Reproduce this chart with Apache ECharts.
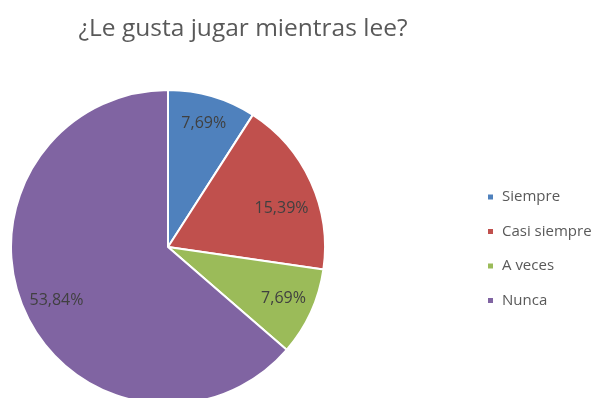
<!DOCTYPE html>
<html><head><meta charset="utf-8">
<script src="https://cdn.jsdelivr.net/npm/echarts@6/dist/echarts.min.js"></script>
<style>html,body{margin:0;padding:0;background:#fff}#c{width:594px;height:398px}</style>
</head><body><div id="c"></div>
<script>
const categories = ['Siempre', 'Casi siempre', 'A veces', 'Nunca'];
const values = [7.69, 15.39, 7.69, 53.84];
const colors = ['#4F81BD', '#C0504D', '#9BBB59', '#8064A2'];
const title = '¿Le gusta jugar mientras lee?';
const labelShift = [[0, -2], [-2, 14], [0, -1], [4, 1]];

const fmt = v => v.toFixed(2).replace('.', ',') + '%';
const data = categories.map((n, i) => ({ name: n, value: values[i], itemStyle: { color: colors[i] } }));
const chart = echarts.init(document.getElementById('c'));
chart.setOption({
  animation: false,
  title: { text: title, left: 238, top: 12, textAlign: 'center',
    textStyle: { fontFamily: 'Open Sans', fontSize: 24.5, fontWeight: 'normal', color: '#595959' } },
  legend: { orient: 'vertical', left: 486, top: 189, padding: 0, itemWidth: 7, itemHeight: 7, itemGap: 18.5,
    icon: 'rect', data: categories,
    textStyle: { fontFamily: 'Open Sans', fontSize: 15, lineHeight: 16, color: '#595959', padding: [0, 0, 0, 3] } },
  series: [
    { type: 'pie', center: [168, 247], radius: 157, startAngle: 90, clockwise: true,
      data: data, label: { show: false }, labelLine: { show: false },
      itemStyle: { borderColor: '#fff', borderWidth: 2 }, emphasis: { disabled: true } },
    { type: 'pie', center: [168, 247], radius: [86, 162], startAngle: 90, clockwise: true, silent: true,
      data: categories.map((n, i) => ({ name: n, value: values[i] })),
      itemStyle: { color: 'rgba(0,0,0,0)' }, labelLine: { show: false },
      labelLayout: p => ({ dx: labelShift[p.dataIndex][0], dy: labelShift[p.dataIndex][1] }),
      label: { show: true, position: 'inside', formatter: p => fmt(p.value),
        fontFamily: 'Open Sans', fontSize: 16, color: '#404040' } }
  ]
});
</script></body></html>
